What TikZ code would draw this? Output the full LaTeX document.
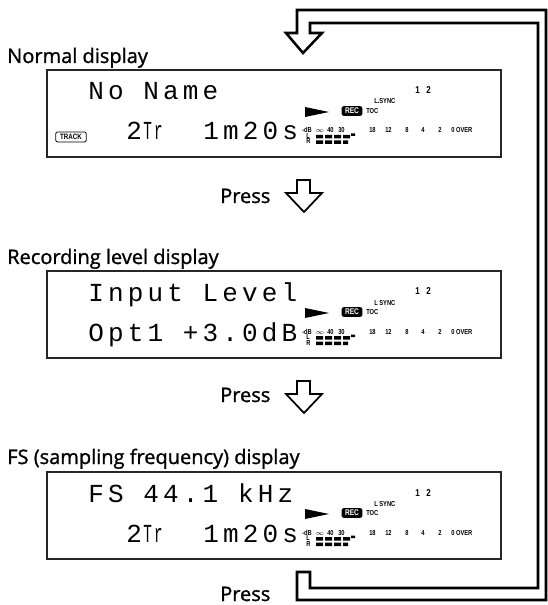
\documentclass[tikz,border=0pt]{standalone}
\usepackage{fontspec}
\usepackage{tikz}
\usetikzlibrary{positioning}
\newfontfamily\labelfont[FakeBold=1.2]{Open Sans}
\newfontfamily\lcdfont[LetterSpace=16]{Liberation Mono}
\newfontfamily\ledfont[FakeStretch=0.8]{Liberation Sans}

\begin{document}
\begin{tikzpicture}[x=0.75pt,y=-0.75pt,
 every node/.style={inner sep=0pt},
 caption/.style={anchor=base west,font=\labelfont\fontsize{15}{18}\selectfont},
 lcd/.style={anchor=base west,font=\lcdfont\fontsize{19.5}{22}\selectfont},
 led/.style={anchor=base west,font=\ledfont\bfseries\fontsize{5.4}{6}\selectfont},
 chan/.style={anchor=base west,font=\ledfont\bfseries\fontsize{7.5}{8}\selectfont},
 recbox/.style={fill=black,text=white,rounded corners=1.5pt,minimum width=15.5pt,minimum height=7.2pt,font=\ledfont\bfseries\fontsize{6.2}{7}\selectfont},
 trackbox/.style={draw,line width=0.6pt,rounded corners=1.5pt,minimum width=23pt,minimum height=7.5pt,font=\ledfont\bfseries\fontsize{5.8}{6}\selectfont},
 panel/.style={draw=black!85,line width=1.1pt},
 hollow/.style={draw,line width=1.3pt,line join=miter},
 loopback/.style={draw,line width=1.9pt,line join=miter}]

\useasboundingbox (0,0) rectangle (547,605);

% captions and key presses
\node[caption] (normal) at (7,63) {Normal display};
\node[caption] (reclevel) at (7,264) {Recording level display};
\node[caption] (fsdisp) at (7,464) {FS (sampling frequency) display};
\node[caption] (press1) at (220,203) {Press};
\node[caption] (press2) at (220,402) {Press};
\node[caption] (press3) at (220,601) {Press};

\draw[hollow] (297,180) -- (310,180) -- (310,193) -- (322,193) -- (304,212) -- (286,193) -- (297,193) -- cycle;
\draw[hollow] (297,381) -- (310,381) -- (310,394) -- (322,394) -- (304,413) -- (286,394) -- (297,394) -- cycle;

% back to the first display
\draw[loopback] (303,53) -- (286,33) -- (297,33) -- (297,10) -- (546,10) -- (546,600) -- (297,600) -- (297,572) -- (310,572) -- (310,588) -- (538,588) -- (538,23) -- (310,23) -- (310,33) -- (322,33) -- cycle;

% normal display
\draw[panel] (47,70) rectangle (501,157);
\node[lcd] (title1) at (88,100) {No Name};
\node[trackbox] (track1) at (71,137) {TRACK};
\node[lcd] (trk1) at (126,140) {2};
\node[lcd] (tr1) at (143,140) {\scalebox{.55}[1]{Tr}};
\node[lcd] (time1) at (203,140) {1m20s};
\fill (305,107) -- (329,112) -- (305,117) -- cycle;
\node[recbox] (rec1) at (352,111) {REC};
\node[led] (toc1) at (366,113.5) {TOC};
\node[led] (sync1) at (374,104) {L.SYNC};
\node[chan] (ch1) at (415,94) {1\hspace{5pt}2};
\node[led] (db1) at (302,133) {-dB};
\node[led] (l1) at (306,138.5) {L};
\node[led] (r1) at (306,144) {R};
\node[led] (inf1) at (315,133) {$\infty$};
\node[led] (m40a) at (327,133) {40};
\node[led] (m30a) at (338,133) {30};
\node[led] (m18a) at (369,133) {18};
\node[led] (m12a) at (385,133) {12};
\node[led] (m8a) at (405,133) {8};
\node[led] (m4a) at (421,133) {4};
\node[led] (m2a) at (438,133) {2};
\node[led] (over1) at (451,133) {0 OVER};
\fill (316,135) rectangle (323,138.5) (325,135) rectangle (332,138.5) (334,135) rectangle (341,138.5) (343,135) rectangle (350,138.5) (351,133.5) rectangle (355,136);
\fill (316,140.5) rectangle (323,144) (325,140.5) rectangle (332,144) (334,140.5) rectangle (341,144) (343,140.5) rectangle (348,144);

% recording level display
\begin{scope}[shift={(0,201)}]
\draw[panel] (47,70) rectangle (501,157);
\node[lcd] (title2) at (88,100) {Input Level};
\node[lcd] (input2) at (88,140) {Opt1 +3.0dB};
\fill (305,107) -- (329,112) -- (305,117) -- cycle;
\node[recbox] (rec2) at (352,111) {REC};
\node[led] (toc2) at (366,113.5) {TOC};
\node[led] (sync2) at (374,104) {L SYNC};
\node[chan] (ch2) at (415,94) {1\hspace{5pt}2};
\node[led] (db2) at (302,133) {-dB};
\node[led] (l2) at (306,138.5) {L};
\node[led] (r2) at (306,144) {R};
\node[led] (inf2) at (315,133) {$\infty$};
\node[led] (m40b) at (327,133) {40};
\node[led] (m30b) at (338,133) {30};
\node[led] (m18b) at (369,133) {18};
\node[led] (m12b) at (385,133) {12};
\node[led] (m8b) at (405,133) {8};
\node[led] (m4b) at (421,133) {4};
\node[led] (m2b) at (438,133) {2};
\node[led] (over2) at (451,133) {0 OVER};
\fill (316,135) rectangle (323,138.5) (325,135) rectangle (332,138.5) (334,135) rectangle (341,138.5) (343,135) rectangle (350,138.5) (351,133.5) rectangle (355,136);
\fill (316,140.5) rectangle (323,144) (325,140.5) rectangle (332,144) (334,140.5) rectangle (341,144) (343,140.5) rectangle (348,144);
\end{scope}

% sampling frequency display
\begin{scope}[shift={(0,402)}]
\draw[panel] (47,70) rectangle (501,157);
\node[lcd] (title3) at (88,100) {FS 44.1 kHz};
\node[lcd] (trk3) at (126,140) {2};
\node[lcd] (tr3) at (143,140) {\scalebox{.55}[1]{Tr}};
\node[lcd] (time3) at (203,140) {1m20s};
\fill (305,107) -- (329,112) -- (305,117) -- cycle;
\node[recbox] (rec3) at (352,111) {REC};
\node[led] (toc3) at (366,113.5) {TOC};
\node[led] (sync3) at (374,104) {L SYNC};
\node[chan] (ch3) at (415,94) {1\hspace{5pt}2};
\node[led] (db3) at (302,133) {-dB};
\node[led] (l3) at (306,138.5) {L};
\node[led] (r3) at (306,144) {R};
\node[led] (inf3) at (315,133) {$\infty$};
\node[led] (m40c) at (327,133) {40};
\node[led] (m30c) at (338,133) {30};
\node[led] (m18c) at (369,133) {18};
\node[led] (m12c) at (385,133) {12};
\node[led] (m8c) at (405,133) {8};
\node[led] (m4c) at (421,133) {4};
\node[led] (m2c) at (438,133) {2};
\node[led] (over3) at (451,133) {0 OVER};
\fill (316,135) rectangle (323,138.5) (325,135) rectangle (332,138.5) (334,135) rectangle (341,138.5) (343,135) rectangle (350,138.5) (351,133.5) rectangle (355,136);
\fill (316,140.5) rectangle (323,144) (325,140.5) rectangle (332,144) (334,140.5) rectangle (341,144) (343,140.5) rectangle (348,144);
\end{scope}
\end{tikzpicture}
\end{document}
